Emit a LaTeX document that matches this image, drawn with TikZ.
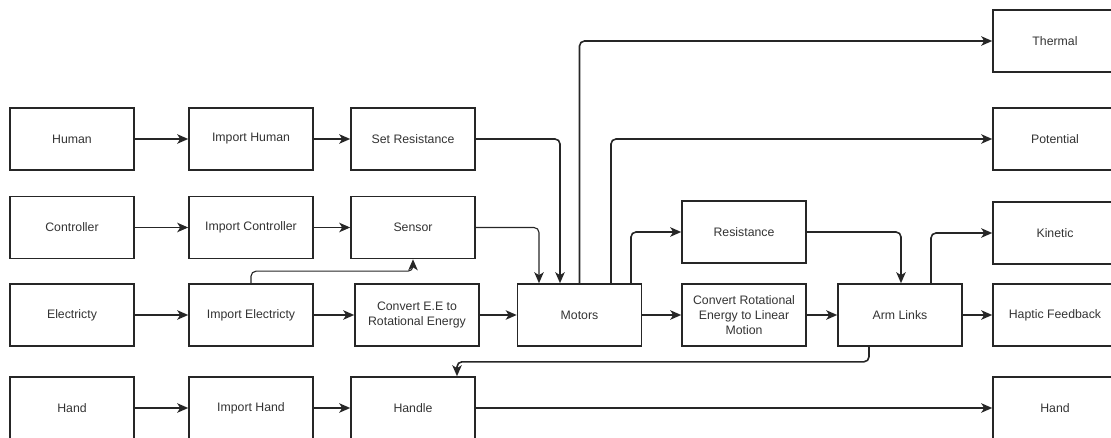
\documentclass[tikz,border=0pt]{standalone}
\usepackage{fontspec}
\setmainfont{Liberation Sans}
\usetikzlibrary{arrows.meta}
\begin{document}
\begin{tikzpicture}[x=1pt,y=1pt,yscale=-1,
  box/.style={draw=black!85,line width=1.6pt,minimum width=124pt,minimum height=62pt,inner sep=2pt,align=center,font=\fontsize{12.3}{15}\selectfont,text=black!80},
  arr/.style={draw=black!85,line width=1.6pt,rounded corners=5pt,-{Stealth[length=11pt,width=9.5pt,inset=3pt]}},
  tarr/.style={arr,line width=1.1pt}]
\useasboundingbox (0,0) rectangle (1111,438);
\clip (0,0) rectangle (1111,438);
\node[box] (human) at (72,139) {Human};
\node[box] (imphuman) at (251,139) {Import Human};
\node[box] (setres) at (413,139) {Set Resistance};
\node[box] (ctrl) at (72,227.5) {Controller};
\node[box] (impctrl) at (251,227.5) {Import Controller};
\node[box] (sensor) at (413,227.5) {Sensor};
\node[box] (elec) at (72,315) {Electricty};
\node[box] (impelec) at (251,315) {Import Electricty};
\node[box] (convee) at (417,315) {Convert E.E to\\Rotational Energy};
\node[box] (motors) at (579.5,315) {Motors};
\node[box] (convrot) at (744,315) {Convert Rotational\\Energy to Linear\\Motion};
\node[box] (arm) at (900,315) {Arm Links};
\node[box] (haptic) at (1055,315) {Haptic Feedback};
\node[box] (hand) at (72,408) {Hand};
\node[box] (imphand) at (251,408) {Import Hand};
\node[box] (handle) at (413,408) {Handle};
\node[box] (handout) at (1055,408) {Hand};
\node[box] (thermal) at (1055,41) {Thermal};
\node[box] (potential) at (1055,139) {Potential};
\node[box] (resist) at (744,232) {Resistance};
\node[box] (kinetic) at (1055,233) {Kinetic};
\draw[arr] (human) -- (imphuman);
\draw[arr] (imphuman) -- (setres);
\draw[tarr] (ctrl) -- (impctrl);
\draw[tarr] (impctrl) -- (sensor);
\draw[arr] (elec) -- (impelec);
\draw[arr] (impelec) -- (convee);
\draw[arr] (convee) -- (motors);
\draw[arr] (motors) -- (convrot);
\draw[arr] (convrot) -- (arm);
\draw[arr] (arm) -- (haptic);
\draw[arr] (hand) -- (imphand);
\draw[arr] (imphand) -- (handle);
\draw[arr] (handle) -- (handout);
\draw[arr] (setres.east) -| ([xshift=-19.5pt]motors.north);
\draw[tarr] (sensor.east) -| ([xshift=-40.5pt]motors.north);
\draw[tarr] (impelec.north) -- ++(0,-12) -| (sensor.south);
\draw[arr] (motors.north) |- (thermal.west);
\draw[arr] ([xshift=31.5pt]motors.north) |- (potential.west);
\draw[arr] ([xshift=51.5pt]motors.north) |- (resist.west);
\draw[arr] (resist.east) -| ([xshift=1pt]arm.north);
\draw[arr] ([xshift=31pt]arm.north) |- (kinetic.west);
\draw[arr] ([xshift=-31pt]arm.south) -- ++(0,15) -| ([xshift=44pt]handle.north);
\end{tikzpicture}
\end{document}
